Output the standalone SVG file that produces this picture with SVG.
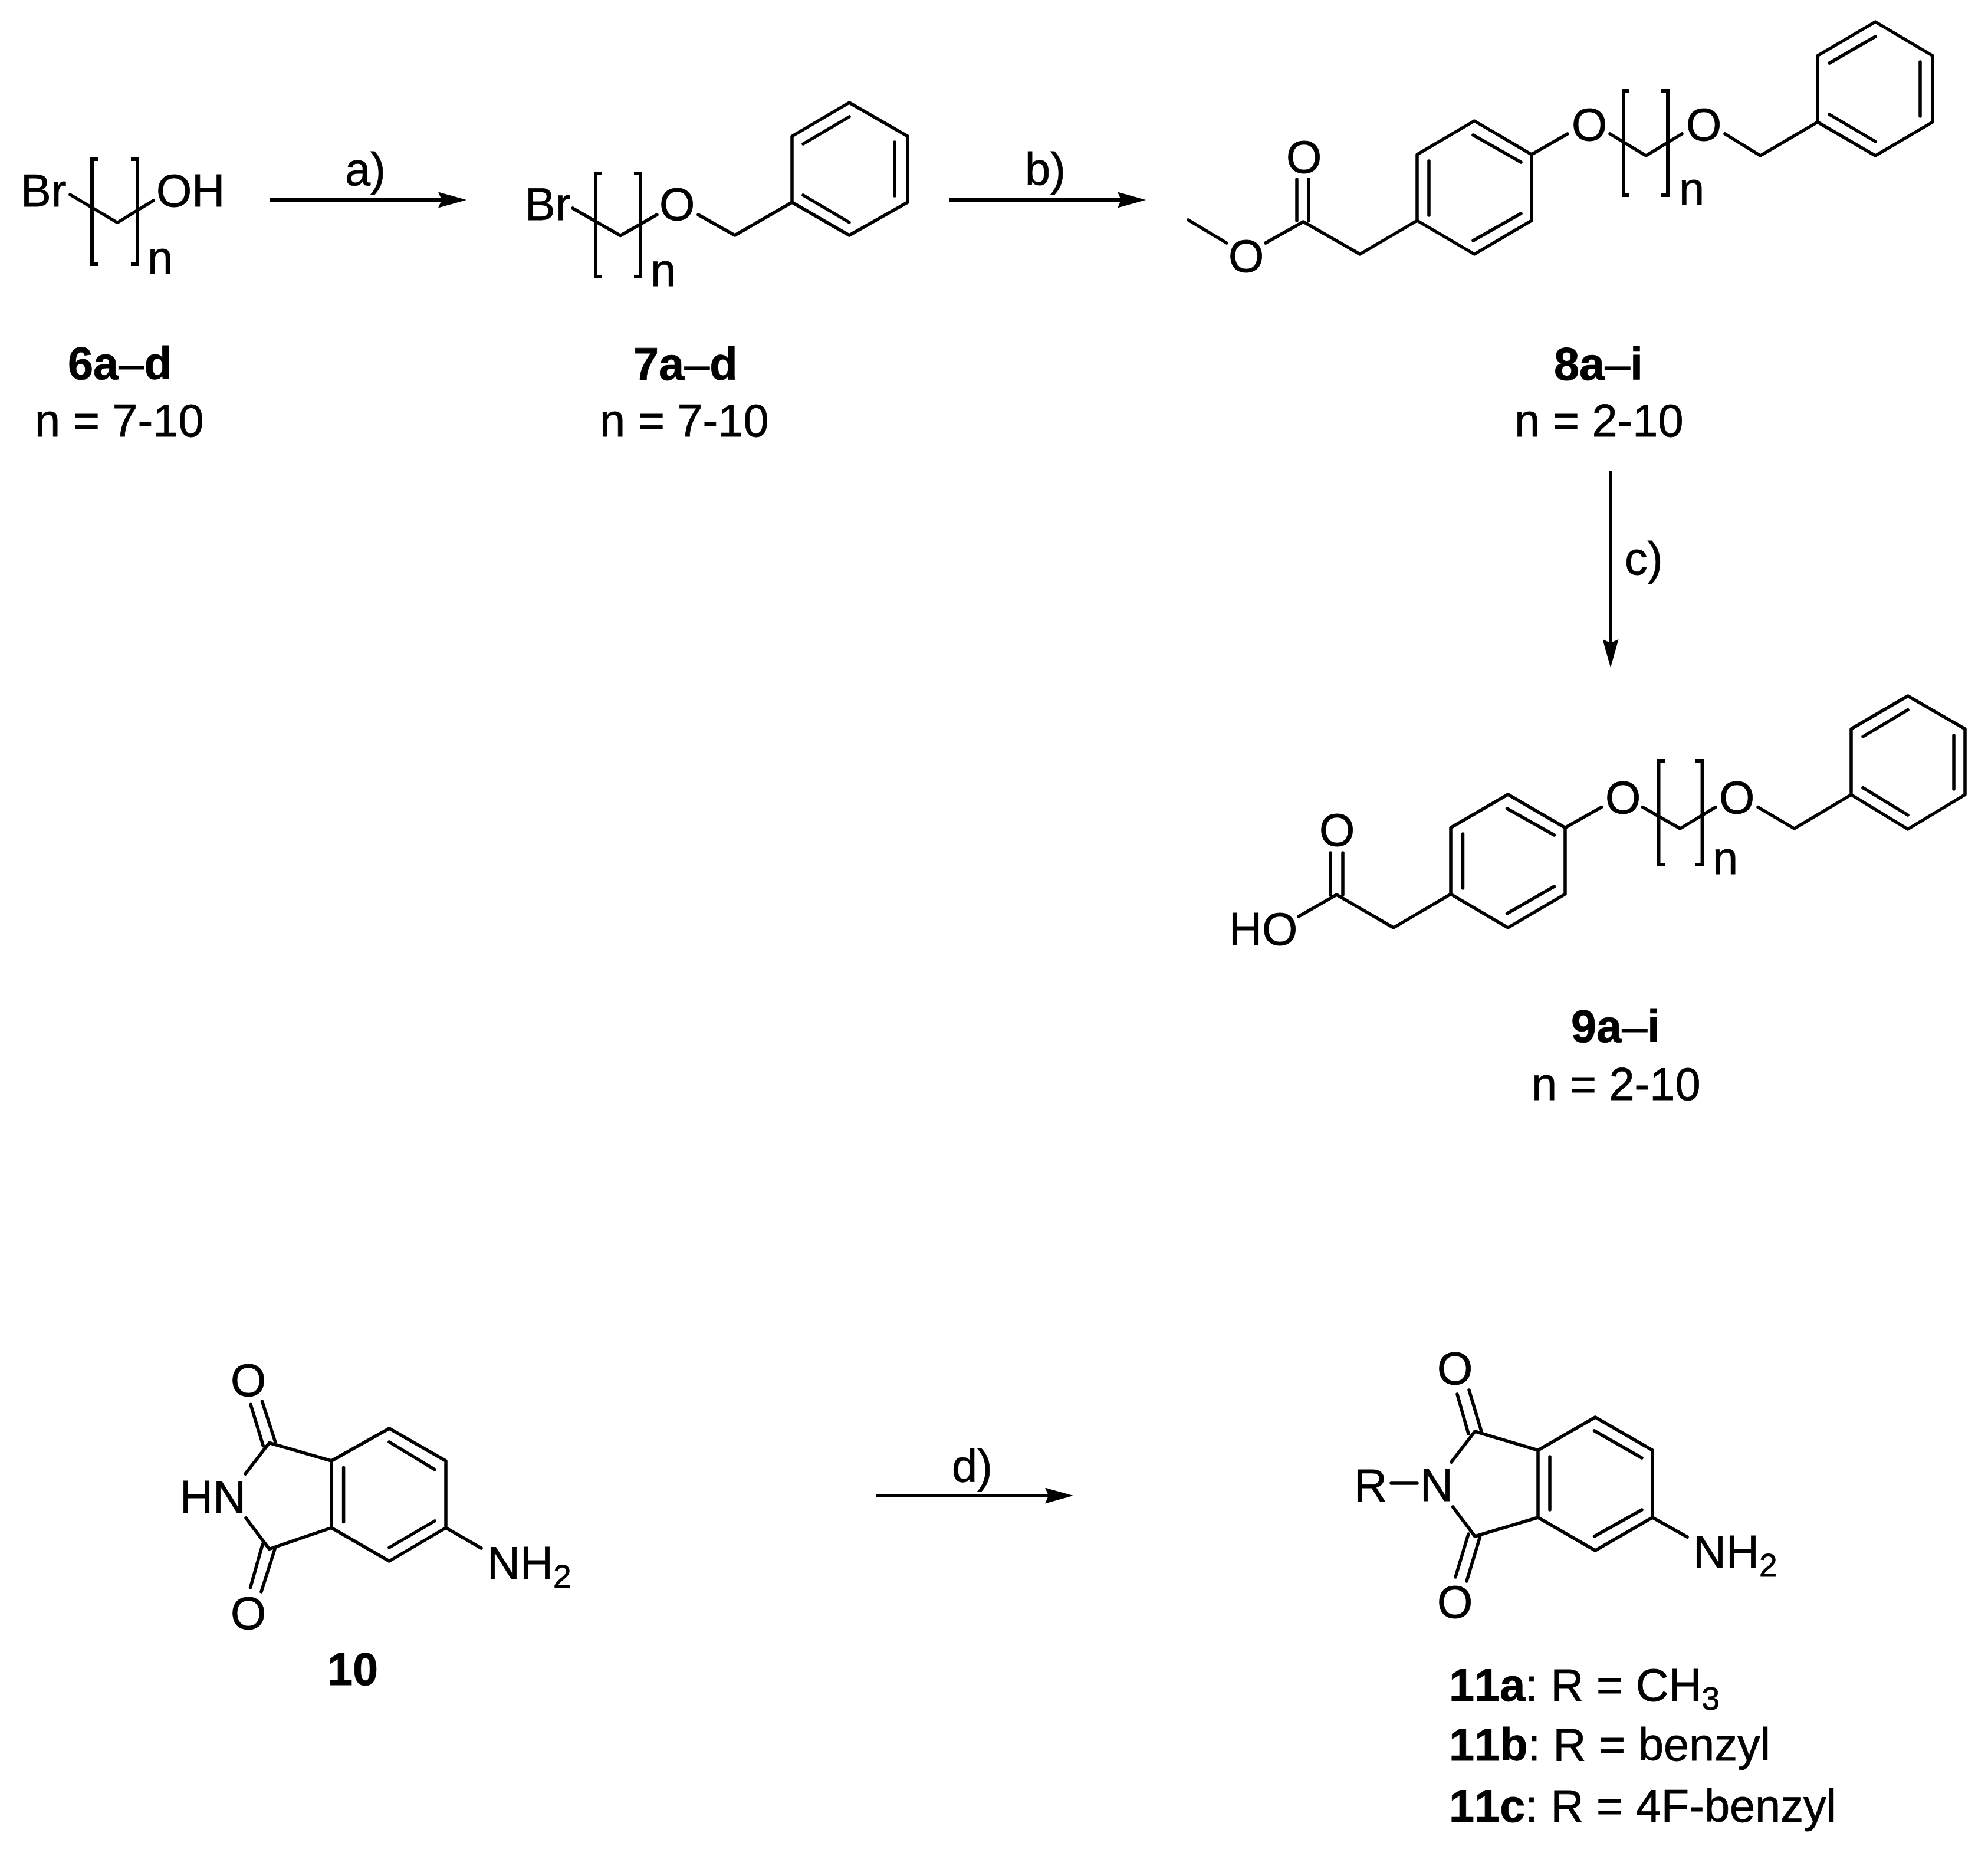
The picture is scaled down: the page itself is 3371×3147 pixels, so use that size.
<svg xmlns="http://www.w3.org/2000/svg" width="3371" height="3147" viewBox="0 0 3371 3147">
<defs>
<style>
text{font-family:"Liberation Sans",Arial,sans-serif;font-size:77.5px;font-kerning:none;fill:#000;stroke:#000;stroke-width:.8}
.b{font-weight:bold}
.s{font-size:55px}
.bond{fill:none;stroke:#000;stroke-width:5.5;stroke-linecap:round;stroke-linejoin:round}
.br{fill:none;stroke:#000;stroke-width:6;stroke-linecap:butt;stroke-linejoin:miter}
.arrow{fill:none;stroke:#000;stroke-width:6;marker-end:url(#head)}
</style>
<marker id="head" markerUnits="userSpaceOnUse" viewBox="0 0 48 27" refX="6" refY="13.5" markerWidth="48" markerHeight="27" orient="auto">
<path d="M0,0L48,13.5L0,27L6,13.5Z" fill="#000"/>
</marker>
</defs>
<rect width="3371" height="3147" fill="#fff"/>
<g id="connectors">
<path class="arrow" d="M457,339H749"/>
<path class="arrow" d="M1609,339H1901"/>
<path class="arrow" d="M2731,799V1090"/>
<path class="arrow" d="M1486,2536H1778"/>
<text x="585" y="314">a)</text>
<text x="1738" y="314">b)</text>
<text x="2755" y="974">c)</text>
<text x="1614" y="2513">d)</text>
</g>
<g id="node-6">
<path class="bond" d="M119,330L199,377.5L260,340"/>
<path class="br" d="M167,270H156V448H167M222,270H233V448H222"/>
<text x="35" y="350">Br</text>
<text x="265" y="350">OH</text>
<text x="250" y="464">n</text>
<text x="115" y="643"><tspan class="b">6a</tspan>–<tspan class="b">d</tspan></text>
<text x="59" y="740">n = 7-10</text>
</g>
<g id="node-7">
<path class="bond" d="M971,353L1052,399.5L1114,364M1184,364L1246,399L1343,343V231L1440,174L1539,231V343L1440,399L1343,343M1362,244L1440,198M1517,241V332M1362,331L1440,377"/>
<path class="br" d="M1021,294H1010V469H1021M1075,294H1086V469H1075"/>
<text x="890" y="373">Br</text>
<text x="1118" y="373">O</text>
<text x="1103" y="485">n</text>
<text x="1074" y="644"><tspan class="b">7a</tspan>–<tspan class="b">d</tspan></text>
<text x="1017" y="740">n = 7-10</text>
</g>
<g id="node-8">
<path class="bond" d="M2015,373L2080,412M2146,412L2210,376L2306,431L2403,374V262L2500,205L2597,262V374L2500,431L2403,374M2199,304V374M2219,304V374M2423,273V365M2498,229L2579,275M2498,408L2579,362M2597,262L2658,227M2730,227L2791,264L2852,227M2925,227L2985,264L3082,207V94.5L3180,37L3277,94.5V207L3180,264L3082,207M3102,107L3180,62M3256,105V197M3102,194L3180,240"/>
<path class="br" d="M2763,154H2753V331H2763M2816,154H2828V331H2816"/>
<text x="2083" y="461">O</text>
<text x="2181" y="293">O</text>
<text x="2665" y="238">O</text>
<text x="2859" y="238">O</text>
<text x="2847" y="347">n</text>
<text x="2635" y="644"><tspan class="b">8a</tspan>–<tspan class="b">i</tspan></text>
<text x="2568" y="740">n = 2-10</text>
</g>
<g id="node-9">
<path class="bond" d="M2202,1554L2266.5,1517L2363,1573L2460,1516V1403.5L2557,1347L2654,1403.5V1516L2557,1573L2460,1516M2256,1446V1517M2277,1446V1517M2480.5,1414V1506M2555.5,1371L2635.5,1416M2555.5,1549L2635.5,1503M2654,1403.5L2715.6,1368.6M2785.5,1368.6L2849,1405L2909,1368.6M2981,1368.6L3042.5,1405L3139,1347.5V1236L3235,1180L3332,1236V1347.5L3235,1406L3139,1347.5M3159,1249L3235,1203.6M3313,1247V1338M3159,1335.6L3235,1382"/>
<path class="br" d="M2823,1290H2812.5V1466H2823M2874,1290H2886.6V1466H2874"/>
<text x="2237" y="1434">O</text>
<text x="2084" y="1602">HO</text>
<text x="2722" y="1379">O</text>
<text x="2915" y="1379">O</text>
<text x="2904" y="1482">n</text>
<text x="2664" y="1767"><tspan class="b">9a</tspan>–<tspan class="b">i</tspan></text>
<text x="2597" y="1865">n = 2-10</text>
</g>
<g id="node-10">
<path class="bond" d="M425,2381.4L446.4,2451.7M444.4,2375.8L466.8,2445M416,2499L456.6,2446.5L562,2477V2590.5L456.6,2626.5L417,2574M562,2477L660,2422L756,2477V2590.5L660,2647L562,2590.5M582.6,2488.5V2580.5M660,2445L737,2491.6M660,2624L737,2579M756,2590.5L816,2625M445.4,2618L424.5,2692M466.8,2624L443,2699"/>
<text x="391" y="2367">O</text>
<text x="391" y="2762">O</text>
<text x="305" y="2565">HN</text>
<text x="826" y="2677">NH<tspan class="s" dy="15">2</tspan></text>
<text class="b" x="555" y="2857">10</text>
</g>
<g id="node-11">
<path class="bond" d="M2471,2364L2490,2431M2491,2357L2512,2427M2461,2479L2501,2427L2608,2459V2573L2501,2605L2463.5,2555M2608,2459L2705,2403L2802,2459V2573L2705,2629L2608,2573M2628,2470V2560M2703.5,2426L2784,2472M2703.5,2605L2784,2560M2802,2573L2861,2606M2509.5,2606L2487,2681M2490,2601L2468,2674M2359,2515H2403"/>
<text x="2437" y="2347">O</text>
<text x="2437" y="2743">O</text>
<text x="2408" y="2545">N</text>
<text x="2296" y="2545">R</text>
<text x="2871" y="2658">NH<tspan class="s" dy="15">2</tspan></text>
<text x="2457" y="2884"><tspan class="b">11a</tspan>: R = CH<tspan class="s" dy="15">3</tspan></text>
<text x="2457" y="2985"><tspan class="b">11b</tspan>: R = benzyl</text>
<text x="2457" y="3089"><tspan class="b">11c</tspan>: R = 4F-benzyl</text>
</g>
</svg>
